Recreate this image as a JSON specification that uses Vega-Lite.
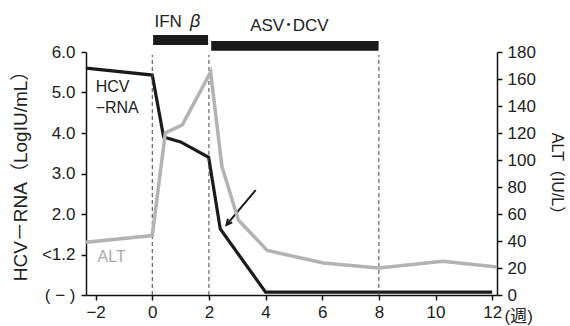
{
  "$schema": "https://vega.github.io/schema/vega-lite/v6.json",
  "width": 411,
  "height": 243,
  "autosize": {"type": "none"},
  "padding": {"left": 86, "top": 52, "right": 73, "bottom": 31},
  "background": "white",
  "config": {
    "view": {"stroke": null},
    "font": "Liberation Sans, Noto Sans CJK JP",
    "axis": {
      "grid": false,
      "domainColor": "#111",
      "domainWidth": 1.5,
      "tickColor": "#111",
      "tickWidth": 1.5,
      "tickSize": 5,
      "labelFont": "Liberation Sans, Noto Sans CJK JP",
      "labelFontSize": 17,
      "labelColor": "#222",
      "titleFont": "Liberation Sans, Noto Sans CJK JP",
      "titleFontSize": 18,
      "titleFontWeight": "normal",
      "titleColor": "#222"
    }
  },
  "datasets": {
    "hcv": [
      {"week": -2.34, "value": 5.6},
      {"week": 0, "value": 5.43},
      {"week": 0.4, "value": 3.9},
      {"week": 1.0, "value": 3.78},
      {"week": 1.99, "value": 3.4},
      {"week": 2.4, "value": 1.63},
      {"week": 4.0, "value": 0.07},
      {"week": 12.0, "value": 0.07}
    ],
    "alt": [
      {"week": -2.34, "value": 39},
      {"week": 0, "value": 44},
      {"week": 0.46, "value": 120},
      {"week": 1.06, "value": 126},
      {"week": 2.06, "value": 165},
      {"week": 2.46, "value": 95},
      {"week": 3.04, "value": 55.5},
      {"week": 4.06, "value": 33},
      {"week": 6.04, "value": 23.7},
      {"week": 8.0, "value": 20},
      {"week": 10.25, "value": 25},
      {"week": 12.17, "value": 20.7}
    ],
    "vlines": [{"week": 0}, {"week": 2}, {"week": 8}],
    "bars": [
      {"drug": "IFN β", "start": 0.03, "end": 1.97, "lo": 6.17, "hi": 6.42},
      {"drug": "ASV・DCV", "start": 2.08, "end": 7.99, "lo": 6.03, "hi": 6.27}
    ],
    "toplabels": [
      {"text": "IFN", "week": 0.56, "value": 6.74},
      {"text": "ASV･DCV", "week": 4.84, "value": 6.64}
    ],
    "beta": [{"text": "β", "week": 1.51, "value": 6.74}],
    "hcvlabels": [
      {"text": "HCV", "week": -2.0, "value": 5.14},
      {"text": "−RNA", "week": -2.0, "value": 4.62}
    ],
    "altlabel": [{"text": "ALT", "week": -1.93, "value": 0.94}],
    "arrow": [{"week": 3.65, "value": 2.59, "week2": 2.62, "value2": 1.73}]
  },
  "layer": [
    {
      "layer": [
        {
          "data": {"name": "hcv"},
          "mark": {"type": "line", "color": "#1a1a1a", "strokeWidth": 3.2, "strokeJoin": "miter"},
          "encoding": {
            "x": {
              "field": "week", "type": "quantitative",
              "scale": {"domain": [-2.34, 12.17], "nice": false, "zero": false},
              "axis": {"values": [-2, 0, 2, 4, 6, 8, 10, 12], "title": "(週)", "titleX": 418, "titleY": 21, "titleAlign": "left", "titleBaseline": "middle", "titleFontSize": 17, "labelPadding": 4, "labelFlush": false}
            },
            "y": {
              "field": "value", "type": "quantitative",
              "scale": {"domain": [0, 6], "nice": false, "zero": false},
              "axis": {
                "values": [0, 1, 2, 3, 4, 5, 6],
                "labelExpr": "datum.value == 0 ? '( − )' : datum.value == 1 ? '<1.2' : format(datum.value, '.1f')",
                "title": "HCV－RNA（LogIU/mL）",
                "titleFontSize": 19,
                "titleX": -66, "titleY": 119, "titleBaseline": "middle",
                "labelPadding": 6
              }
            }
          }
        },
        {
          "data": {"name": "vlines"},
          "mark": {"type": "rule", "color": "#444", "strokeWidth": 1, "strokeDash": [4, 3]},
          "encoding": {
            "x": {"field": "week", "type": "quantitative"},
            "y": {"datum": 0, "type": "quantitative"},
            "y2": {"datum": 5.93}
          }
        },
        {
          "data": {"name": "bars"},
          "mark": {"type": "rect", "color": "#1a1a1a"},
          "encoding": {
            "x": {"field": "start", "type": "quantitative"},
            "x2": {"field": "end"},
            "y": {"field": "lo", "type": "quantitative"},
            "y2": {"field": "hi"}
          }
        },
        {
          "data": {"name": "toplabels"},
          "mark": {"type": "text", "fontSize": 17, "color": "#222", "align": "center", "baseline": "middle"},
          "encoding": {
            "x": {"field": "week", "type": "quantitative"},
            "y": {"field": "value", "type": "quantitative"},
            "text": {"field": "text"}
          }
        },
        {
          "data": {"name": "beta"},
          "mark": {"type": "text", "fontSize": 18, "fontStyle": "italic", "color": "#222", "align": "center", "baseline": "middle"},
          "encoding": {
            "x": {"field": "week", "type": "quantitative"},
            "y": {"field": "value", "type": "quantitative"},
            "text": {"field": "text"}
          }
        },
        {
          "data": {"name": "hcvlabels"},
          "mark": {"type": "text", "fontSize": 16, "color": "#222", "align": "left", "baseline": "middle"},
          "encoding": {
            "x": {"field": "week", "type": "quantitative"},
            "y": {"field": "value", "type": "quantitative"},
            "text": {"field": "text"}
          }
        },
        {
          "data": {"name": "altlabel"},
          "mark": {"type": "text", "fontSize": 16, "color": "#aaaaaa", "align": "left", "baseline": "middle"},
          "encoding": {
            "x": {"field": "week", "type": "quantitative"},
            "y": {"field": "value", "type": "quantitative"},
            "text": {"field": "text"}
          }
        },
        {
          "data": {"name": "arrow"},
          "mark": {"type": "rule", "color": "#1a1a1a", "strokeWidth": 2},
          "encoding": {
            "x": {"field": "week", "type": "quantitative"},
            "y": {"field": "value", "type": "quantitative"},
            "x2": {"field": "week2"},
            "y2": {"field": "value2"}
          }
        },
        {
          "data": {"name": "arrow"},
          "mark": {"type": "point", "shape": "M-0.7,1.4L0,0L0.7,1.4", "filled": false, "size": 64, "strokeWidth": 2, "color": "#1a1a1a", "angle": 220, "opacity": 1},
          "encoding": {
            "x": {"field": "week2", "type": "quantitative"},
            "y": {"field": "value2", "type": "quantitative"}
          }
        }
      ]
    },
    {
      "data": {"name": "alt"},
      "mark": {"type": "line", "color": "#b3b3b3", "strokeWidth": 3.5},
      "encoding": {
        "x": {"field": "week", "type": "quantitative"},
        "y": {
          "field": "value", "type": "quantitative",
          "scale": {"domain": [0, 180], "nice": false, "zero": false},
          "axis": {
            "orient": "right",
            "values": [0, 20, 40, 60, 80, 100, 120, 140, 160, 180],
            "title": "ALT（IU/L）",
            "titleFontSize": 16,
            "titleX": 59, "titleY": 125, "titleBaseline": "middle",
            "labelPadding": 5
          }
        }
      }
    }
  ],
  "resolve": {"scale": {"y": "independent"}}
}
